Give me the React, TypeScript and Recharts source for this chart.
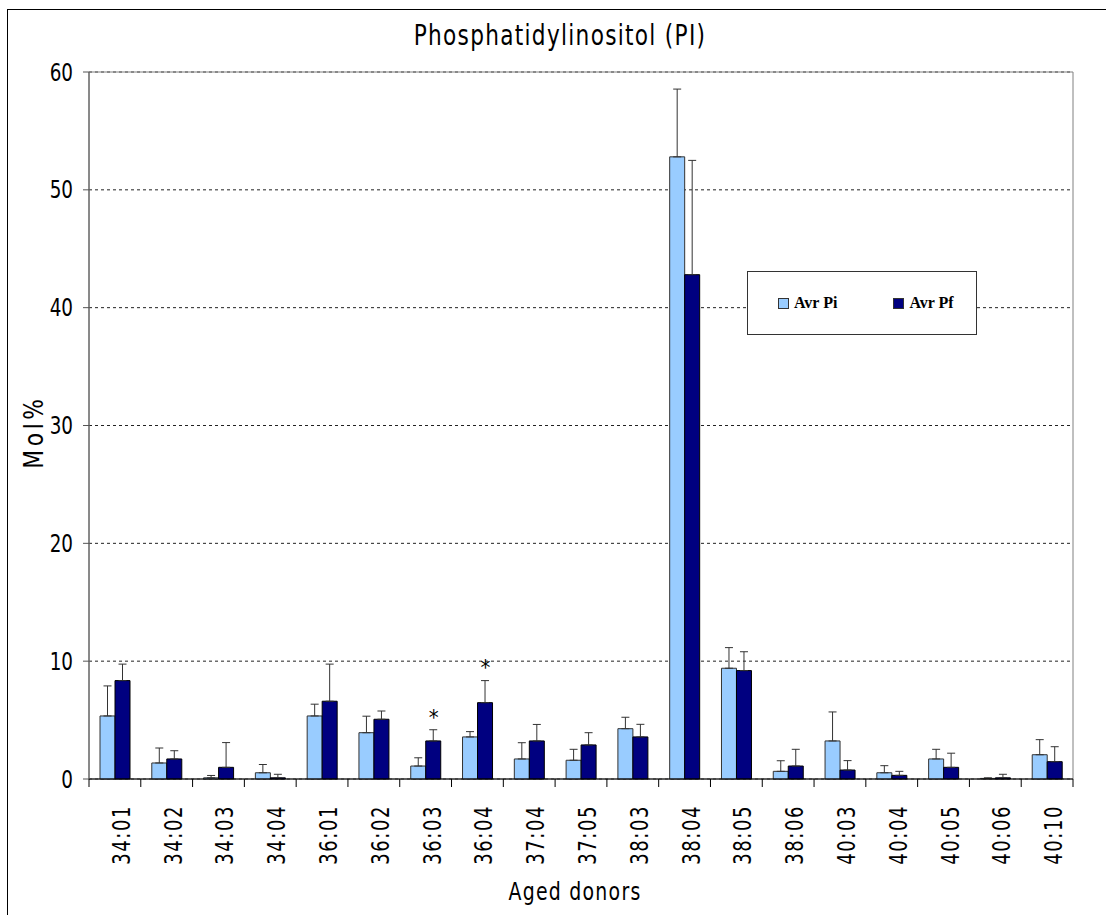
import {
  ComposedChart,
  Bar,
  ErrorBar,
  Scatter,
  XAxis,
  YAxis,
  CartesianGrid,
  ReferenceArea,
  Legend,
} from "recharts";

const categories = [
  "34:01", "34:02", "34:03", "34:04", "36:01", "36:02", "36:03", "36:04",
  "37:04", "37:05", "38:03", "38:04", "38:05", "38:06", "40:03", "40:04",
  "40:05", "40:06", "40:10",
];
const avrPi = [5.35, 1.36, 0.1, 0.53, 5.35, 3.93, 1.1, 3.57, 1.7, 1.59, 4.27, 52.8, 9.4, 0.65, 3.23, 0.53, 1.7, 0.05, 2.06];
const avrPf = [8.35, 1.7, 0.99, 0.1, 6.6, 5.07, 3.23, 6.48, 3.23, 2.89, 3.57, 42.8, 9.2, 1.1, 0.76, 0.31, 0.99, 0.1, 1.47];
const errPi = [2.55, 1.27, 0.2, 0.7, 1.0, 1.4, 0.7, 0.45, 1.38, 0.93, 0.97, 5.75, 1.75, 0.9, 2.46, 0.6, 0.82, 0.05, 1.28];
const errPf = [1.4, 0.7, 2.1, 0.3, 3.15, 0.7, 0.95, 1.87, 1.4, 1.04, 1.07, 9.7, 1.6, 1.42, 0.8, 0.34, 1.2, 0.3, 1.27];
// significance markers (*) drawn above Avr Pf
const stars: (number | null)[] = [null, null, null, null, null, null, 5.7, 9.9, null, null, null, null, null, null, null, null, null, null, null];
const yTicks = [0, 10, 20, 30, 40, 50, 60];

const data = categories.map((name, i) => ({
  name,
  pi: avrPi[i],
  pf: avrPf[i],
  piErr: [0, errPi[i]],
  pfErr: [0, errPf[i]],
  star: stars[i],
}));

const FONT = "'Liberation Sans Narrow', 'DejaVu Sans Condensed', 'Arial Narrow', sans-serif";
const W = 1106;
const H = 915;
const M = { top: 72, right: 33, left: 0, bottom: 0 };
const Y_AXIS_W = 89;
const BAND = (W - M.left - M.right - Y_AXIS_W) / categories.length;

const XTick = (props: any) => {
  const { x, y, payload, index } = props;
  const left = x - BAND / 2;
  return (
    <g>
      <line x1={left} y1={y - 8} x2={left} y2={y} stroke="#000" />
      {index === categories.length - 1 && (
        <line x1={x + BAND / 2} y1={y - 8} x2={x + BAND / 2} y2={y} stroke="#000" />
      )}
      <text
        transform={`translate(${x + 15}, ${y + 18}) rotate(-90) scale(0.8, 1)`}
        textAnchor="end"
        fontFamily={FONT}
        fontSize={25}
        letterSpacing={2}
        fill="#000"
      >
        {payload.value}
      </text>
    </g>
  );
};

const YTick = (props: any) => {
  const { x, y, payload } = props;
  return (
    <text
      transform={`translate(${x}, ${y}) scale(0.85, 1)`}
      dy="0.36em"
      textAnchor="end"
      fontFamily={FONT}
      fontSize={24}
      fill="#000"
    >
      {payload.value}
    </text>
  );
};

const StarShape = (props: any) => {
  const { cx, cy, payload } = props;
  if (payload == null || payload.star == null) return null;
  return (
    <text x={cx + 8} y={cy + 13} textAnchor="middle" fontFamily={FONT} fontSize={22} fill="#000" stroke="none">
      *
    </text>
  );
};

const renderLegend = (props: any) => {
  const order = ["pi", "pf"];
  const items = (props.payload || [])
    .filter((p: any) => order.includes(p.dataKey))
    .sort((a: any, b: any) => order.indexOf(a.dataKey) - order.indexOf(b.dataKey));
  return (
    <div
      style={{
        width: 228,
        height: 62,
        border: "1px solid #333",
        background: "#fff",
        display: "flex",
        alignItems: "center",
        boxSizing: "content-box",
      }}
    >
      {items.map((entry: any, index: number) => (
        <div
          key={`legend-${index}`}
          style={{ display: "flex", alignItems: "center", marginLeft: index === 0 ? 30 : 56 }}
        >
          <div
            style={{
              width: 9,
              height: 9,
              background: entry.color,
              border: "1px solid #333",
              marginRight: 5,
            }}
          />
          <span
            style={{
              fontFamily: "'Liberation Serif', 'Times New Roman', serif",
              fontWeight: "bold",
              fontSize: 16,
              color: "#000",
            }}
          >
            {entry.value}
          </span>
        </div>
      ))}
    </div>
  );
};

export default function App() {
  return (
    <div style={{ position: "absolute", left: 0, top: 0, width: W, height: H, background: "#fff", overflow: "hidden" }}>
      <div
        style={{
          position: "absolute",
          left: 7,
          top: 9,
          width: W,
          height: H,
          borderLeft: "1px solid #000",
          borderTop: "1px solid #000",
        }}
      />
      <div style={{ position: "absolute", left: 0, top: 0 }}>
        <ComposedChart width={W} height={H} data={data} margin={M} barGap={0}>
          <CartesianGrid vertical={false} stroke="#222" strokeDasharray="3 3" />
          <ReferenceArea y1={0} y2={60} fill="none" stroke="#808080" strokeWidth={1} ifOverflow="visible" />
          <XAxis
            dataKey="name"
            interval={0}
            height={136}
            tickLine={false}
            axisLine={{ stroke: "#000" }}
            tick={<XTick />}
          />
          <YAxis
            domain={[0, 60]}
            ticks={yTicks}
            width={Y_AXIS_W}
            tickSize={6}
            tickMargin={10}
            axisLine={{ stroke: "#555" }}
            tickLine={{ stroke: "#555" }}
            tick={<YTick />}
          />
          <Legend
            content={renderLegend}
            layout="horizontal"
            verticalAlign="middle"
            align="center"
            wrapperStyle={{ position: "absolute", left: 747, top: 271, width: 230, height: 64 }}
          />
          <Bar dataKey="pi" name="Avr Pi" fill="#99CCFF" stroke="#333" barSize={15} isAnimationActive={false}>
            <ErrorBar dataKey="piErr" width={4} stroke="#333" strokeWidth={1} direction="y" />
          </Bar>
          <Bar dataKey="pf" name="Avr Pf" fill="#000080" stroke="#000" barSize={15} isAnimationActive={false}>
            <ErrorBar dataKey="pfErr" width={4} stroke="#333" strokeWidth={1} direction="y" />
          </Bar>
          <Scatter dataKey="star" legendType="none" fill="#000" shape={<StarShape />} isAnimationActive={false} />
        </ComposedChart>
      </div>
      <svg width={W} height={H} style={{ position: "absolute", left: 0, top: 0, pointerEvents: "none" }}>
        <text
          transform="translate(560, 45) scale(0.86, 1)"
          textAnchor="middle"
          fontFamily={FONT}
          fontSize={28}
          letterSpacing={1.5}
          fill="#000"
        >
          Phosphatidylinositol (PI)
        </text>
        <text
          transform="translate(43, 432) rotate(-90) scale(0.9, 1)"
          textAnchor="middle"
          fontFamily={FONT}
          fontSize={27}
          letterSpacing={4}
          fill="#000"
        >
          Mol%
        </text>
        <text
          transform="translate(575, 900) scale(0.84, 1)"
          textAnchor="middle"
          fontFamily={FONT}
          fontSize={25}
          letterSpacing={1.5}
          fill="#000"
        >
          Aged donors
        </text>
      </svg>
    </div>
  );
}
